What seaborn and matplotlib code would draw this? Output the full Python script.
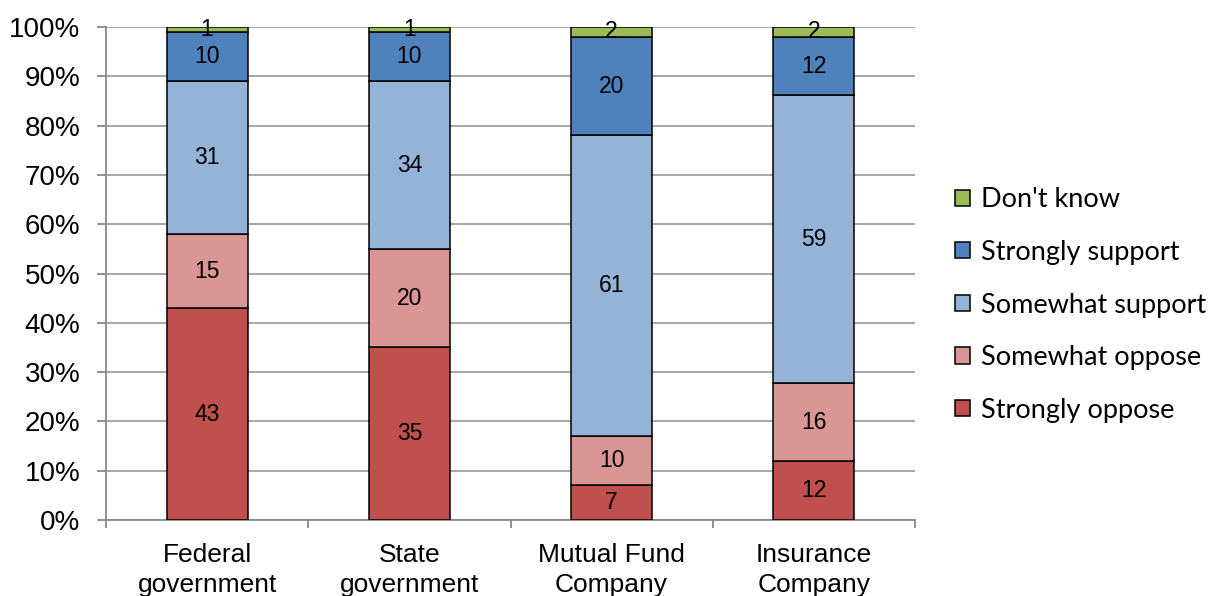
import numpy as np
import pandas as pd
import matplotlib
matplotlib.use("Agg")
import matplotlib.pyplot as plt
import seaborn as sns

# data
organisations = ["Federal\ngovernment", "State\ngovernment", "Mutual Fund\nCompany", "Insurance\nCompany"]
responses = ["Strongly oppose", "Somewhat oppose", "Somewhat support", "Strongly support", "Don't know"]
strongly_oppose = [43, 35, 7, 12]
somewhat_oppose = [15, 20, 10, 16]
somewhat_support = [31, 34, 61, 59]
strongly_support = [10, 10, 20, 12]
dont_know = [1, 1, 2, 2]

colors = ["#C0504D", "#D99694", "#95B3D7", "#4F81BD", "#9BBB59"]

raw = np.array([strongly_oppose, somewhat_oppose, somewhat_support, strongly_support, dont_know], dtype=float)
pct = raw / raw.sum(axis=0) * 100  # 100% stacked

sns.set_style("white")
plt.rcParams["font.family"] = ["Liberation Sans", "DejaVu Sans"]
plt.rcParams["text.color"] = "black"
plt.rcParams["xtick.color"] = "black"
plt.rcParams["ytick.color"] = "black"

fig = plt.figure(figsize=(12.11, 5.96), dpi=100)
ax = fig.add_axes([106 / 1211, 1 - 520 / 596, 809 / 1211, 493 / 596])

bottom = np.zeros(len(organisations))
handles = []
for i, resp in enumerate(responses):
    df = pd.DataFrame({"org": organisations, "pct": pct[i]})
    sns.barplot(data=df, x="org", y="pct", order=organisations, color=colors[i],
                width=0.4, bottom=bottom, errorbar=None, ax=ax,
                edgecolor="black", linewidth=1.1, saturation=1, zorder=3)
    cont = ax.containers[-1]
    handles.append(cont)
    ax.bar_label(cont, labels=[str(int(v)) for v in raw[i]], label_type="center",
                 fontsize=16.5, color="black", zorder=4)
    bottom = bottom + pct[i]

if ax.get_legend() is not None:
    ax.get_legend().remove()

ax.set_xlim(-0.5, 3.5)
ax.set_ylim(0, 100)
ax.set_yticks(np.arange(0, 101, 10))
ax.set_yticklabels([f"{v}%" for v in range(0, 101, 10)])
ax.set_xlabel("")
ax.set_ylabel("")

ax.yaxis.grid(True, color="#A0A0A0", linewidth=1.3, zorder=0)
ax.xaxis.grid(False)
for s in ["top", "right"]:
    ax.spines[s].set_visible(False)
for s in ["left", "bottom"]:
    ax.spines[s].set_color("#888888")
    ax.spines[s].set_linewidth(1.3)

ax.tick_params(axis="y", which="major", left=True, length=6.5, width=1.3, color="#888888",
               labelsize=20, pad=12, labelcolor="black")
ax.tick_params(axis="x", which="major", bottom=False, labelsize=19, pad=13, labelcolor="black")
ax.set_xticks(np.arange(-0.5, 4, 1), minor=True)
ax.tick_params(axis="x", which="minor", bottom=True, length=6, width=1.3, color="#888888")
for lbl in ax.get_xticklabels():
    lbl.set_linespacing(1.3)

leg = fig.legend(handles[::-1], responses[::-1], loc="center left",
                 bbox_to_anchor=(955 / 1211, 1 - 305 / 596), frameon=False,
                 prop={"family": ["Lato", "DejaVu Sans"], "size": 19.5},
                 handlelength=0.55, handleheight=0.55, handletextpad=0.4,
                 labelspacing=1.02, borderpad=0, borderaxespad=0)
for h in leg.legend_handles:
    h.set_edgecolor("black")
    h.set_linewidth(1.1)

fig.savefig("out.png", dpi=100)
